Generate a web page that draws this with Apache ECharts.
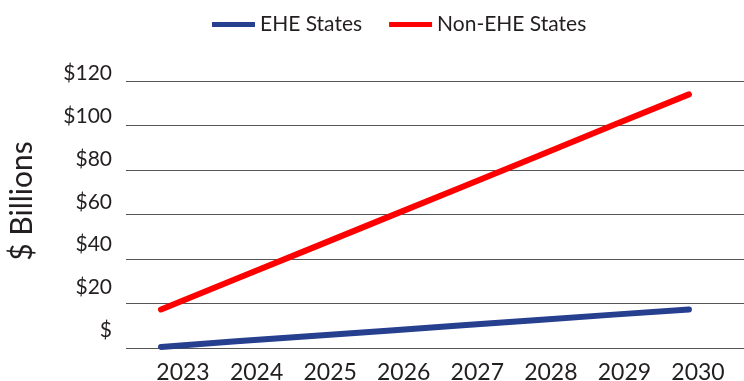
<!DOCTYPE html>
<html>
<head>
<meta charset="utf-8">
<script src="https://cdn.jsdelivr.net/npm/echarts@6/dist/echarts.min.js"></script>
<style>html,body{margin:0;padding:0;background:#fff}#c{width:744px;height:381px}</style>
</head>
<body>
<div id="c"></div>
<script>
const years = ['2023','2024','2025','2026','2027','2028','2029','2030'];
const yearNums = [2023,2024,2025,2026,2027,2028,2029,2030];
const eheValues = [0.5, 3.0, 5.4, 7.8, 10.2, 12.6, 15.0, 17.3];
const nonEheValues = [17.3, 31.1, 44.9, 58.7, 72.5, 86.3, 100.2, 114.0];
const yTicks = [0, 20, 40, 60, 80, 100, 120];

const FONT = 'Lato';
const TXT = '#231f20';
const chart = echarts.init(document.getElementById('c'), null, {renderer: 'canvas'});
const pair = (vals) => vals.map((v, i) => [yearNums[i], v]);
chart.setOption({
  animation: false,
  textStyle: {fontFamily: FONT},
  legend: {
    left: 212, top: 14, padding: 0,
    icon: 'rect', itemWidth: 43, itemHeight: 5, itemGap: 27,
    textStyle: {fontFamily: FONT, fontSize: 21, color: TXT},
    data: [
      {name: 'EHE States'},
      {name: 'Non-EHE States', textStyle: {padding: [5, 0, 0, 0]}}
    ]
  },
  graphic: [{
    type: 'text', x: 22, y: 201, rotation: Math.PI / 2,
    style: {text: '$ Billions', font: '30px Lato', fill: TXT, align: 'center', verticalAlign: 'middle'}
  }],
  grid: [
    {left: 126, right: 0, top: 81, bottom: 33, outerBoundsMode: 'none', containLabel: false},
    {left: 183, right: 46, top: 81, bottom: 33, outerBoundsMode: 'none', containLabel: false},
    {left: 126, right: 0, top: 73.5, bottom: 51, outerBoundsMode: 'none', containLabel: false}
  ],
  xAxis: [
    {type: 'value', gridIndex: 0, min: 2022.536, max: 2030.73, show: false, splitLine: {show: false}},
    {type: 'category', gridIndex: 1, data: years, boundaryGap: false,
     axisLine: {show: false}, axisTick: {show: false},
     axisLabel: {fontFamily: FONT, fontSize: 23, color: TXT, margin: 13}},
    {type: 'value', gridIndex: 2, min: 0, max: 1, show: false, splitLine: {show: false}}
  ],
  yAxis: [
    {type: 'value', gridIndex: 0, min: 0, max: 120, interval: 20,
     axisLine: {show: false}, axisTick: {show: false}, axisLabel: {show: false},
     splitLine: {lineStyle: {color: '#555', width: 1.2}}},
    {type: 'value', gridIndex: 1, min: 0, max: 120, show: false, splitLine: {show: false}},
    {type: 'value', gridIndex: 2, min: 0, max: 120, interval: 20,
     axisLine: {show: false}, axisTick: {show: false}, splitLine: {show: false},
     axisLabel: {fontFamily: FONT, fontSize: 21, color: TXT, margin: 14, verticalAlign: 'middle',
       formatter: v => yTicks.includes(v) ? (v === 0 ? '$' : '$' + v) : ''}}
  ],
  series: [
    {name: 'EHE States', type: 'line', xAxisIndex: 0, yAxisIndex: 0, data: pair(eheValues),
     showSymbol: false, symbol: 'none', color: '#263F8F',
     lineStyle: {width: 6, color: '#263F8F', cap: 'round'}},
    {name: 'Non-EHE States', type: 'line', xAxisIndex: 0, yAxisIndex: 0, data: pair(nonEheValues),
     showSymbol: false, symbol: 'none', color: '#FF0000',
     lineStyle: {width: 6, color: '#FF0000', cap: 'round'}}
  ]
});
</script>
</body>
</html>
